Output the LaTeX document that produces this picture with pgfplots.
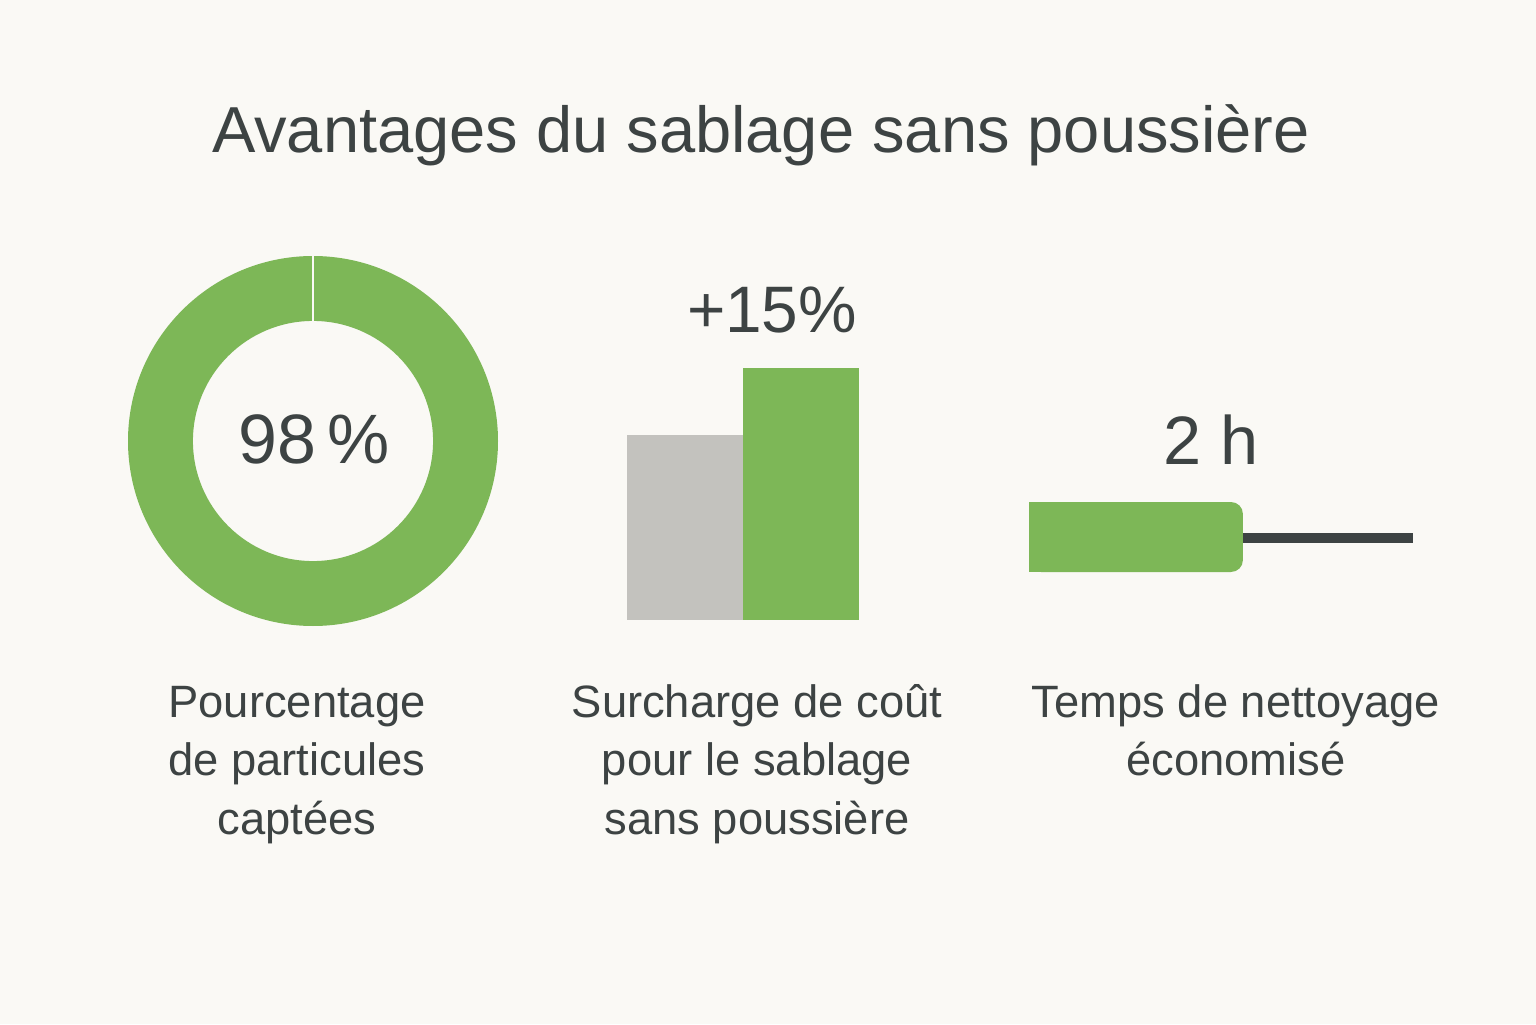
\documentclass[border=0pt]{standalone}
\usepackage{pgfplots}
\pgfplotsset{compat=1.18}
\usepackage{fontspec}
\setmainfont{Liberation Sans}
\definecolor{bg}{HTML}{FAF9F5}
\definecolor{vert}{HTML}{7DB757}
\definecolor{gris}{HTML}{C3C2BE}
\definecolor{texte}{HTML}{3D4343}
\begin{document}
\begin{tikzpicture}
\fill[bg] (0,0) rectangle (15.36cm,10.24cm);
% Title
\node[anchor=base, text=texte, inner sep=0pt] at (7.61cm,8.71cm) {\fontsize{18.5pt}{23pt}\selectfont Avantages du sablage sans poussière};

% Donut
\begin{axis}[at={(3.13cm,5.83cm)}, anchor=center, width=3.7cm, height=3.7cm, scale only axis, hide axis,
  xmin=-1, xmax=1, ymin=-1, ymax=1, clip=false]
  \fill[vert, even odd rule] (axis cs:0,0) circle[radius=1] (axis cs:0,0) circle[radius=0.649];
  \draw[bg, line width=0.02cm] (axis cs:0,0.64) -- (axis cs:0,1.01);
\end{axis}
\node[anchor=base, text=texte, inner sep=0pt] at (3.14cm,5.61cm) {\fontsize{19.9pt}{24pt}\selectfont 98\,\%};

% Bars
\begin{axis}[at={(6.27cm,4.04cm)}, anchor=south west, width=2.32cm, height=2.59cm, scale only axis, hide axis,
  xmin=0, xmax=2, ymin=0, ymax=140]
  \addplot[ybar, bar width=1, bar shift=0, fill=gris, draw=none] coordinates {(0.5,100)};
  \addplot[ybar, bar width=1, bar shift=0, fill=vert, draw=none] coordinates {(1.5,136)};
\end{axis}
\node[anchor=base, text=texte, inner sep=0pt] at (7.72cm,6.92cm) {\fontsize{18.7pt}{23pt}\selectfont +15\%};

% Horizontal bar
\begin{axis}[at={(10.29cm,4.87cm)}, anchor=west, width=3.84cm, height=1cm, scale only axis, hide axis,
  xmin=0, xmax=3.59, ymin=-1, ymax=1]
  \addplot[line width=0.1cm, color=texte] coordinates {(1.9,-0.02) (3.59,-0.02)};
  \addplot[xbar, bar width=0.7cm, bar shift=0, fill=vert, draw=none, rounded corners=0.12cm] coordinates {(2,0)};
  \addplot[xbar, bar width=0.7cm, bar shift=0, fill=vert, draw=none] coordinates {(1,0)};
\end{axis}
\node[anchor=base, text=texte, inner sep=0pt] at (12.11cm,5.60cm) {\fontsize{19.5pt}{24pt}\selectfont 2 h};

% Labels
\begin{scope}[every node/.style={anchor=base, text=texte, inner sep=0pt, font=\fontsize{12.9pt}{16pt}\selectfont}]
\node at (2.97cm,3.07cm) {Pourcentage};
\node at (2.97cm,2.485cm) {de particules};
\node at (2.97cm,1.90cm) {captées};
\node at (7.57cm,3.07cm) {Surcharge de coût};
\node at (7.57cm,2.485cm) {pour le sablage};
\node at (7.57cm,1.90cm) {sans poussière};
\node at (12.36cm,3.07cm) {Temps de nettoyage};
\node at (12.36cm,2.485cm) {économisé};
\end{scope}
\end{tikzpicture}
\end{document}
